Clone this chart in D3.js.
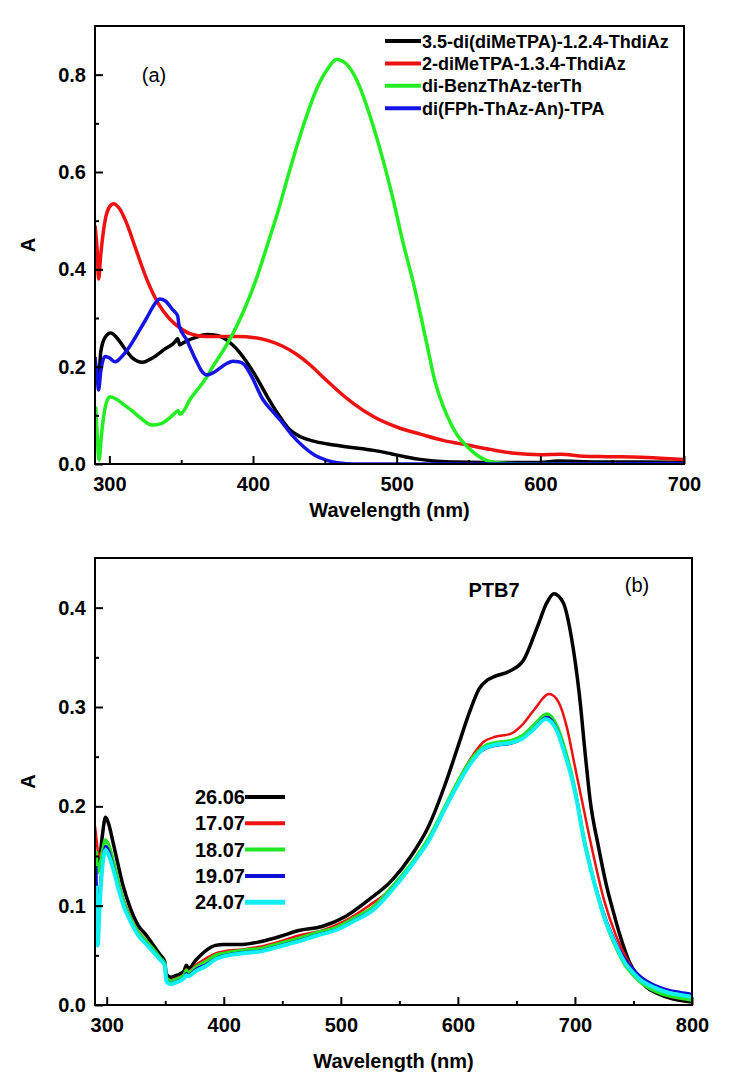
<!DOCTYPE html>
<html>
<head>
<meta charset="utf-8">
<script src="https://d3js.org/d3.v7.min.js"></script>
<style>
  body { margin:0; background:#fff; }
  svg text { font-family: "Liberation Sans", Arial, sans-serif; fill:#000; }
  .axis .tick text { font-size:20px; font-weight:bold; }
  .axis line { stroke:#000; stroke-width:2px; }
  .lbl { font-size:20px; font-weight:bold; }
  .tag { font-size:20px; }
</style>
</head>
<body>
<script>
// ---- panel (a) ----
var namesA = ["3.5-di(diMeTPA)-1.2.4-ThdiAz", "2-diMeTPA-1.3.4-ThdiAz", "di-BenzThAz-terTh", "di(FPh-ThAz-An)-TPA"];
var colorsA = ["#000000", "#ee1111", "#22ee22", "#1414e6"];
var xTicksA = [300, 400, 500, 600, 700];
var xMinorA = [350, 450, 550, 650];
var yTicksA = [0, 0.2, 0.4, 0.6, 0.8];
var yMinorA = [0.1, 0.3, 0.5, 0.7];

var thdiaz124 = [[291,0.2],[292.5,0.17],[294,0.23],[297,0.26],[301,0.269],[305,0.26],[310,0.24],[316,0.218],[323,0.209],[330,0.218],[338,0.235],[346,0.252],[347.5,0.258],[349,0.245],[352,0.25],[360,0.26],[368,0.266],[375,0.264],[382,0.254],[389,0.235],[395,0.212],[402,0.18],[410,0.138],[418,0.1],[425,0.072],[433,0.056],[442,0.047],[452,0.041],[466,0.035],[484,0.028],[496,0.021],[504,0.016],[515,0.01],[526,0.006],[540,0.004],[560,0.003],[600,0.003],[612,0.006],[640,0.004],[670,0.004],[700,0.003]];
var thdiaz134 = [[290,0.49],[291.5,0.44],[292.5,0.38],[294,0.43],[297,0.5],[300,0.528],[303,0.535],[307,0.525],[312,0.495],[318,0.445],[326,0.38],[334,0.33],[342,0.298],[349,0.28],[356,0.268],[368,0.262],[380,0.262],[390,0.262],[400,0.26],[410,0.254],[420,0.243],[430,0.226],[440,0.203],[450,0.175],[460,0.148],[470,0.124],[484,0.097],[500,0.076],[517,0.061],[533,0.048],[549,0.039],[565,0.03],[582,0.022],[600,0.019],[614,0.02],[630,0.016],[646,0.015],[670,0.014],[690,0.011],[700,0.009]];
var benzThAz = [[290.5,0.118],[291.5,0.06],[292.8,0.008],[294.5,0.06],[297,0.115],[300.3,0.138],[305,0.133],[310,0.122],[315,0.111],[322,0.094],[329.6,0.08],[336,0.083],[342,0.095],[347,0.108],[348,0.11],[349,0.102],[352,0.11],[356,0.132],[362,0.155],[367,0.175],[372,0.2],[379,0.232],[386,0.268],[394,0.318],[402,0.378],[410,0.45],[417,0.515],[425,0.598],[435,0.695],[445,0.775],[452,0.812],[458,0.831],[465,0.822],[472,0.79],[482,0.71],[490,0.63],[497.6,0.543],[504,0.46],[511.6,0.372],[520.9,0.248],[526.4,0.173],[535,0.1],[542,0.06],[549,0.036],[556,0.018],[562,0.008],[572,0.002],[590,0],[700,0]];
var fphTpa = [[290,0.22],[291.5,0.18],[292.5,0.152],[294,0.19],[297,0.221],[300,0.218],[304,0.21],[309,0.222],[314,0.241],[320,0.27],[326,0.3],[331,0.326],[335,0.339],[339,0.335],[344,0.317],[347.5,0.305],[348.5,0.285],[353.8,0.255],[360,0.215],[365,0.188],[368,0.183],[372,0.187],[377,0.197],[382,0.207],[386,0.211],[390,0.21],[394,0.204],[399,0.18],[407,0.132],[413,0.11],[419,0.09],[427,0.06],[435,0.036],[443,0.018],[451,0.008],[460,0.002],[470,0],[600,0],[700,0.001]];

// ---- panel (b) ----
var namesB = ["26.06", "17.07", "18.07", "19.07", "24.07"];
var colorsB = ["#000000", "#ee1111", "#22e622", "#1010d8", "#10f0f0"];
var widthsB = [3.5, 2.5, 3.5, 2.5, 4];
var xTicksB = [300, 400, 500, 600, 700, 800];
var xMinorB = [350, 450, 550, 650, 750];
var yTicksB = [0, 0.1, 0.2, 0.3, 0.4];
var yMinorB = [0.05, 0.15, 0.25, 0.35];

var d2606 = [[291,0.15],[293,0.138],[296,0.168],[299,0.189],[302,0.181],[305,0.166],[309,0.145],[314,0.12],[320,0.098],[327,0.08],[334,0.07],[340,0.06],[346,0.05],[349.5,0.044],[351,0.031],[355,0.028],[360,0.03],[366,0.034],[368,0.04],[370,0.037],[376,0.045],[385,0.055],[393,0.06],[400,0.061],[416,0.061],[432,0.064],[448,0.069],[464,0.075],[484,0.079],[504,0.089],[524,0.106],[544,0.126],[560,0.15],[575,0.18],[590,0.225],[600,0.26],[610,0.295],[618,0.318],[625,0.327],[632,0.331],[644,0.336],[656,0.347],[668,0.381],[676,0.405],[682,0.414],[690,0.405],[697,0.37],[704,0.31],[709,0.25],[713,0.206],[720,0.16],[727,0.12],[733,0.093],[738,0.072],[747,0.042],[755,0.027],[761,0.018],[770,0.012],[784,0.006],[800,0.003]];
var d1707 = [[290,0.18],[291.5,0.165],[293,0.15],[296,0.155],[299,0.166],[302,0.16],[306,0.143],[310,0.124],[315,0.104],[320,0.09],[327,0.074],[334,0.065],[340,0.056],[346,0.047],[349.5,0.041],[351,0.028],[355,0.025],[360,0.027],[366,0.031],[368,0.036],[370,0.033],[376,0.04],[385,0.047],[393,0.052],[400,0.054],[416,0.056],[432,0.059],[448,0.064],[464,0.07],[484,0.075],[504,0.085],[524,0.1],[546,0.12],[560,0.14],[575,0.166],[590,0.2],[600,0.225],[612,0.25],[622,0.265],[632,0.27],[645,0.273],[655,0.282],[665,0.297],[678,0.313],[686,0.305],[693,0.28],[700,0.24],[707,0.2],[715,0.155],[725,0.105],[735,0.07],[745,0.045],[760,0.022],[780,0.009],[800,0.005]];
var d1807 = [[291,0.155],[292.5,0.133],[295,0.145],[299,0.166],[302,0.16],[306,0.143],[310,0.123],[315,0.102],[320,0.088],[327,0.073],[334,0.064],[340,0.056],[346,0.047],[349.5,0.042],[351,0.027],[355,0.024],[360,0.026],[366,0.03],[368,0.035],[370,0.032],[376,0.038],[385,0.044],[393,0.05],[400,0.052],[416,0.055],[432,0.057],[448,0.062],[464,0.067],[480,0.073],[496,0.078],[512,0.088],[528,0.099],[546,0.122],[560,0.142],[575,0.168],[590,0.202],[600,0.225],[612,0.248],[622,0.26],[632,0.264],[645,0.266],[655,0.271],[665,0.282],[676,0.293],[685,0.28],[692,0.255],[697,0.233],[702,0.205],[707,0.172],[713,0.14],[720,0.108],[727,0.081],[735,0.058],[743,0.04],[750,0.03],[756,0.023],[765,0.016],[778,0.01],[790,0.007],[800,0.005]];
var d1907 = [[291,0.14],[292.5,0.1],[295,0.13],[299,0.16],[302,0.155],[306,0.138],[310,0.119],[315,0.1],[320,0.086],[327,0.071],[334,0.062],[340,0.054],[346,0.046],[349.5,0.041],[351,0.025],[355,0.022],[360,0.024],[366,0.028],[368,0.032],[370,0.03],[376,0.036],[385,0.041],[393,0.047],[400,0.05],[416,0.053],[432,0.055],[448,0.06],[464,0.065],[480,0.071],[496,0.076],[512,0.086],[528,0.097],[546,0.12],[560,0.14],[575,0.166],[590,0.2],[600,0.222],[612,0.245],[622,0.257],[632,0.261],[645,0.263],[655,0.268],[665,0.279],[676,0.29],[685,0.277],[692,0.252],[697,0.231],[702,0.205],[707,0.172],[713,0.14],[720,0.11],[727,0.085],[735,0.063],[743,0.046],[750,0.036],[756,0.029],[765,0.022],[778,0.016],[790,0.013],[800,0.011]];
var d2407 = [[291,0.12],[292.3,0.06],[294,0.1],[296,0.135],[299,0.156],[302,0.15],[306,0.135],[310,0.117],[315,0.098],[320,0.085],[327,0.07],[334,0.061],[340,0.053],[346,0.045],[349.5,0.04],[351,0.024],[355,0.021],[360,0.023],[366,0.027],[368,0.03],[370,0.029],[376,0.034],[384.5,0.039],[393,0.046],[400,0.049],[416,0.052],[432,0.054],[448,0.059],[464,0.064],[480,0.07],[496,0.0755],[512,0.085],[528,0.096],[546,0.119],[560,0.14],[575,0.165],[590,0.2],[600,0.222],[612,0.245],[622,0.258],[632,0.262],[645,0.264],[655,0.268],[665,0.278],[675,0.288],[685,0.275],[692,0.25],[697,0.23],[701.5,0.206],[707,0.17],[713,0.139],[720,0.108],[727,0.082],[735,0.06],[743,0.042],[750,0.032],[756,0.025],[765,0.019],[778,0.013],[790,0.01],[800,0.008]];

var svg = d3.select("body").append("svg")
    .attr("width", 729)
    .attr("height", 1090);

function drawPanel(p) {
  var x = d3.scaleLinear().domain(p.xDom).range([p.left, p.right]);
  var y = d3.scaleLinear().domain(p.yDom).range([p.bottom, p.top]);

  svg.append("clipPath").attr("id", p.id)
    .append("rect")
    .attr("x", p.left).attr("y", p.top)
    .attr("width", p.right - p.left).attr("height", p.bottom - p.top);

  var line = d3.line()
      .x(function(d) { return x(d[0]); })
      .y(function(d) { return y(d[1]); })
      .curve(d3.curveMonotoneX);

  var gl = svg.append("g").attr("clip-path", "url(#" + p.id + ")");
  p.series.forEach(function(s, i) {
    gl.append("path")
      .datum(s)
      .attr("d", line)
      .attr("fill", "none")
      .attr("stroke", p.colors[i])
      .attr("stroke-width", p.widths[i])
      .attr("stroke-linejoin", "round");
  });

  svg.append("rect")
    .attr("x", p.left).attr("y", p.top)
    .attr("width", p.right - p.left).attr("height", p.bottom - p.top)
    .attr("fill", "none").attr("stroke", "#000").attr("stroke-width", 2);

  var gx = svg.append("g").attr("class", "axis")
    .attr("transform", "translate(0," + p.bottom + ")")
    .call(d3.axisBottom(x).tickValues(p.xTicks).tickSize(-8).tickPadding(13).tickFormat(d3.format("d")));
  gx.select(".domain").remove();
  svg.append("g").attr("class", "axis")
    .attr("transform", "translate(0," + p.bottom + ")")
    .call(d3.axisBottom(x).tickValues(p.xMinor).tickSize(-4).tickFormat(""))
    .select(".domain").remove();

  var gy = svg.append("g").attr("class", "axis")
    .attr("transform", "translate(" + p.left + ",0)")
    .call(d3.axisLeft(y).tickValues(p.yTicks).tickSize(-8).tickPadding(9).tickFormat(d3.format(".1f")));
  gy.select(".domain").remove();
  svg.append("g").attr("class", "axis")
    .attr("transform", "translate(" + p.left + ",0)")
    .call(d3.axisLeft(y).tickValues(p.yMinor).tickSize(-4).tickFormat(""))
    .select(".domain").remove();

  svg.append("text").attr("class", "lbl")
    .attr("x", (p.left + p.right) / 2).attr("y", p.titleY)
    .attr("text-anchor", "middle")
    .text("Wavelength (nm)");
  svg.append("text").attr("class", "lbl")
    .attr("transform", "translate(35," + (p.top + p.bottom) / 2 + ") rotate(-90)")
    .attr("text-anchor", "middle")
    .text("A");
  return {x: x, y: y};
}

drawPanel({
  id: "clipA", left: 95, right: 684, top: 26, bottom: 464,
  xDom: [290, 700], yDom: [0, 0.9],
  xTicks: xTicksA, xMinor: xMinorA, yTicks: yTicksA, yMinor: yMinorA,
  series: [thdiaz124, thdiaz134, benzThAz, fphTpa],
  colors: colorsA, widths: [3.5, 3.5, 3.5, 3.5],
  titleY: 517
});

drawPanel({
  id: "clipB", left: 95, right: 692, top: 558, bottom: 1005,
  xDom: [290, 800], yDom: [0, 0.45],
  xTicks: xTicksB, xMinor: xMinorB, yTicks: yTicksB, yMinor: yMinorB,
  series: [d2606, d1707, d1807, d1907, d2407],
  colors: colorsB, widths: widthsB,
  titleY: 1068
});

// legend (a)
var legA = svg.append("g");
namesA.forEach(function(n, i) {
  var cy = 41 + i * 22.4;
  legA.append("line").attr("x1", 385).attr("x2", 421).attr("y1", cy).attr("y2", cy)
    .attr("stroke", colorsA[i]).attr("stroke-width", 4);
  legA.append("text").attr("x", 422).attr("y", cy + 6.5)
    .style("font-size", "18px").style("font-weight", "bold")
    .text(n);
});

// legend (b)
var legB = svg.append("g");
namesB.forEach(function(n, i) {
  var cy = 797 + i * 26.3;
  legB.append("line").attr("x1", 245).attr("x2", 285).attr("y1", cy).attr("y2", cy)
    .attr("stroke", colorsB[i]).attr("stroke-width", i == 4 ? 5 : 4);
  legB.append("text").attr("x", 245).attr("y", cy + 7)
    .attr("text-anchor", "end")
    .style("font-size", "20px").style("font-weight", "bold")
    .text(n);
});

svg.append("text").attr("class", "tag").attr("x", 154).attr("y", 82).attr("text-anchor", "middle").text("(a)");
svg.append("text").attr("class", "tag").attr("x", 637).attr("y", 592).attr("text-anchor", "middle").text("(b)");
svg.append("text").attr("class", "lbl").attr("x", 494).attr("y", 597).attr("text-anchor", "middle").text("PTB7");
</script>
</body>
</html>
